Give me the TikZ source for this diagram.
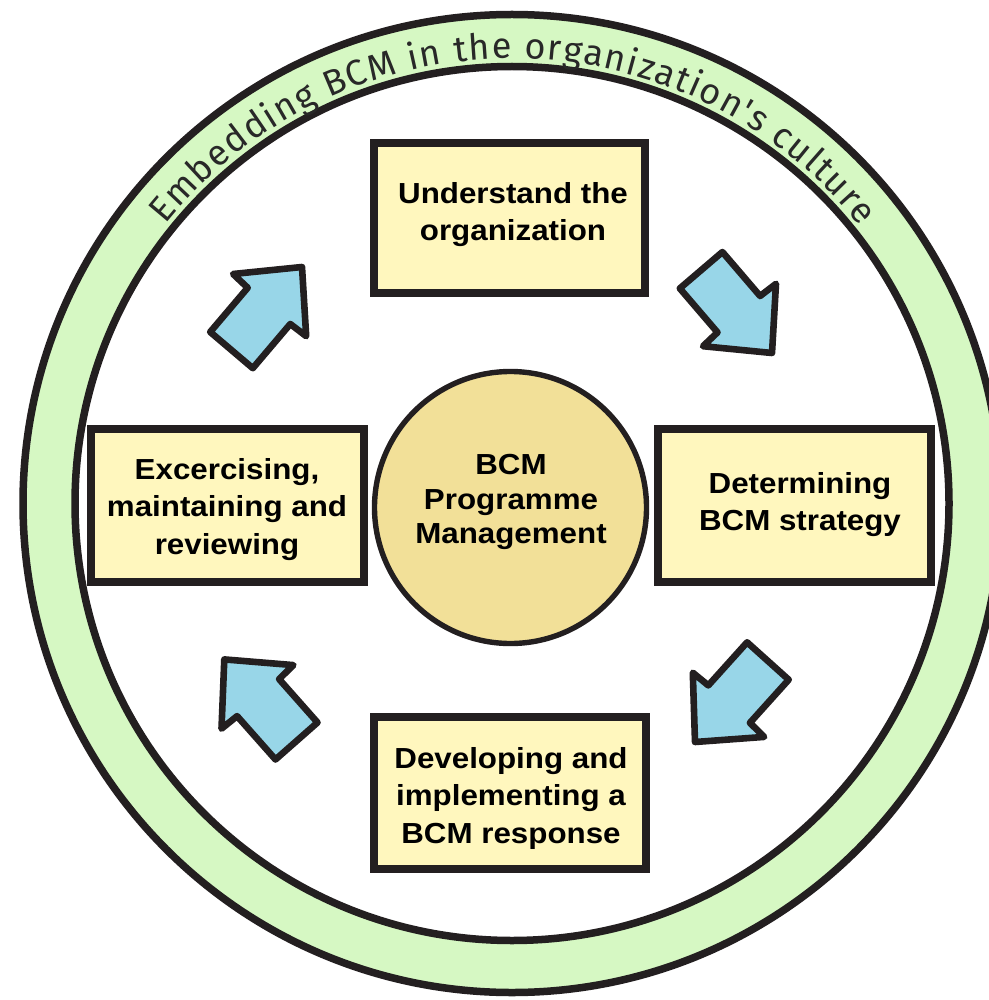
\documentclass[tikz,border=0pt]{standalone}
\usepackage{fontspec}
\setmainfont{Liberation Sans}
\newfontfamily\boxfont{Liberation Sans}[FakeStretch=1.08]
\newfontfamily\ringfont{Fira Sans}
\usetikzlibrary{decorations.text}
\definecolor{ringgreen}{RGB}{214,248,195}
\definecolor{boxyellow}{RGB}{255,247,190}
\definecolor{hubtan}{RGB}{242,224,152}
\definecolor{arrowblue}{RGB}{152,214,232}
\definecolor{lineblack}{RGB}{35,31,32}
\definecolor{ringtext}{RGB}{40,40,40}
\tikzset{
  ringline/.style={draw=lineblack, line width=3.75pt},
  stepbox/.style={draw=lineblack, line width=4pt, fill=boxyellow, rectangle, inner sep=0pt},
  boxtext/.style={align=center, inner sep=0pt, text=black,
    font=\boxfont\bfseries\fontsize{14.5}{18.75}\selectfont},
  hubtext/.style={align=center, inner sep=0pt, text=black,
    font=\boxfont\bfseries\fontsize{14.5}{17.25}\selectfont},
  hub/.style={circle, draw=lineblack, line width=2.7pt, fill=hubtan, minimum size=136pt, inner sep=0pt},
  blockarrow/.style={fill=arrowblue, draw=lineblack, line width=3.3pt, line join=round}
}
\begin{document}
\begin{tikzpicture}[x=0.5pt,y=-0.5pt]
\useasboundingbox (0,0) rectangle (989,1000);
\clip (0,0) rectangle (989,1000);
\fill[white] (0,0) rectangle (989,1000);
% outer ring
\coordinate (c) at (512,503.5);
\fill[ringgreen, even odd rule] (c) circle[radius=489] (c) circle[radius=437];
\draw[ringline] (c) circle[radius=489];
\draw[ringline] (c) circle[radius=437];
\path[decorate, decoration={text along path, text align=fit to path,
  text={|\ringfont\fontsize{18}{18}\selectfont\color{ringtext}|Embedding BCM in the organization's culture}}]
  (c) ++(-141.2:445) arc[start angle=-141.2, end angle=-38.5, radius=445];
% boxes
\node[stepbox, minimum width=135.5pt, minimum height=75pt] (understand) at (509.5,218) {};
\node[boxtext] (understand-t) at (513,214.7) {Understand the\\organization};
\node[stepbox, minimum width=136.5pt, minimum height=76.5pt] (exercise) at (227.5,505.5) {};
\node[boxtext] (exercise-t) at (227,509.15) {Excercising,\\maintaining and\\reviewing};
\node[stepbox, minimum width=136.5pt, minimum height=76.5pt] (strategy) at (794.5,505.5) {};
\node[boxtext] (strategy-t) at (800,504.7) {Determining\\BCM strategy};
\node[stepbox, minimum width=136pt, minimum height=76pt] (response) at (510,793) {};
\node[boxtext] (response-t) at (511,798.45) {Developing and\\implementing a\\BCM response};
% hub
\node[hub] (hub) at (510.5,507.5) {};
\node[hubtext] (hub-t) at (511,502.2) {BCM\\Programme\\Management};
% block arrows
\filldraw[blockarrow] (302,267) -- (306.2,336.2) -- (290.3,324) -- (252.8,368.2) -- (210.2,332) -- (247.7,287.8) -- (233.1,274) -- cycle;
\filldraw[blockarrow] (772,353) -- (703,346.2) -- (717.5,332.4) -- (679.8,288.4) -- (722.4,252) -- (760.1,296) -- (776,283.8) -- cycle;
\filldraw[blockarrow] (695,742) -- (692.8,672.7) -- (708.3,685.4) -- (747.1,642.3) -- (788.7,679.7) -- (749.9,722.8) -- (764.2,736.9) -- cycle;
\filldraw[blockarrow] (224.3,659.4) -- (293.4,665.1) -- (279.1,679.1) -- (317.5,722.5) -- (275.5,759.5) -- (237.1,716.1) -- (221.5,728.7) -- cycle;
\end{tikzpicture}
\end{document}
